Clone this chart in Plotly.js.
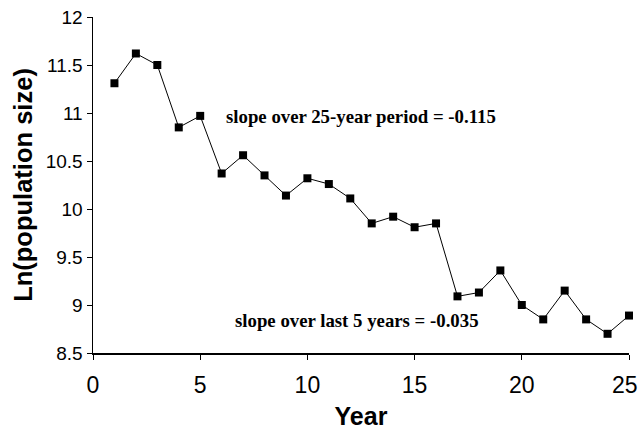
<!DOCTYPE html>
<html>
<head>
<meta charset="utf-8">
<script src="https://cdn.plot.ly/plotly-3.0.1.min.js"></script>
<style>html,body{margin:0;padding:0;background:#fff;}#chart{width:639px;height:431px;}</style>
</head>
<body>
<div id="chart"></div>
<script>
const years = [1,2,3,4,5,6,7,8,9,10,11,12,13,14,15,16,17,18,19,20,21,22,23,24,25];
const lnPop = [11.31,11.62,11.50,10.85,10.97,10.37,10.56,10.35,10.14,10.32,10.26,10.11,9.85,9.92,9.81,9.85,9.09,9.13,9.36,9.00,8.85,9.15,8.85,8.70,8.89];
const xTicks = [0,5,10,15,20,25];
const xTickText = ['0','5','10','15','20','25'];
const yTicks = [8.5,9,9.5,10,10.5,11,11.5,12];
const yTickText = ['8.5','9','9.5','10','10.5','11','11.5','12'];
const notes = ['slope over 25-year period = -0.115','slope over last 5 years = -0.035'];
const noteX = [12.5,12.3];
const noteY = [10.96,8.84];

const sans = 'Liberation Sans, Arial, sans-serif';
const last = xTicks.length - 1;

const trace = {
  x: years, y: lnPop, type: 'scatter', mode: 'lines+markers',
  line: {color: '#000', width: 1},
  marker: {symbol: 'square', size: 8, color: '#000'},
  hoverinfo: 'skip', cliponaxis: false
};

const annotations = notes.map((t, i) => ({
  x: noteX[i], y: noteY[i], xref: 'x', yref: 'y', text: '<b>' + t + '</b>',
  showarrow: false, xanchor: 'center', yanchor: 'middle',
  font: {family: 'Liberation Serif, Times New Roman, serif', size: 18.8, color: '#000'}
}));
// the last x tick label sits at the right edge; draw it shifted inward so it is not cut off
annotations.push({
  x: xTicks[last], y: 0, xref: 'x', yref: 'paper', text: xTickText[last],
  showarrow: false, xanchor: 'center', yanchor: 'middle', xshift: -4, yshift: -32,
  font: {family: sans, size: 23, color: '#000'}
});

const layout = {
  width: 639, height: 431,
  margin: {l: 93, r: 10, t: 17, b: 78},
  paper_bgcolor: '#fff', plot_bgcolor: '#fff',
  showlegend: false,
  xaxis: {
    range: [0, 25], tickvals: xTicks,
    ticktext: xTickText.map((t, i) => i === last ? '' : t),
    showgrid: false, zeroline: false, showline: true, linecolor: '#000', linewidth: 1.5,
    ticks: 'outside', ticklen: 5, tickcolor: '#000', ticklabelstandoff: 6,
    tickfont: {family: sans, size: 23, color: '#000'},
    title: {text: '<b>Year</b>', font: {family: sans, size: 25, color: '#000'}, standoff: 10}
  },
  yaxis: {
    range: [8.5, 12], tickvals: yTicks, ticktext: yTickText,
    showgrid: false, zeroline: false, showline: true, linecolor: '#000', linewidth: 1.5,
    ticks: 'outside', ticklen: 5, tickcolor: '#000',
    tickfont: {family: sans, size: 19, color: '#000'},
    title: {text: '<b>Ln(population size)</b>', font: {family: sans, size: 25.5, color: '#000'}, standoff: 6}
  },
  annotations: annotations
};
Plotly.newPlot('chart', [trace], layout, {displayModeBar: false, staticPlot: true});
</script>
</body>
</html>
